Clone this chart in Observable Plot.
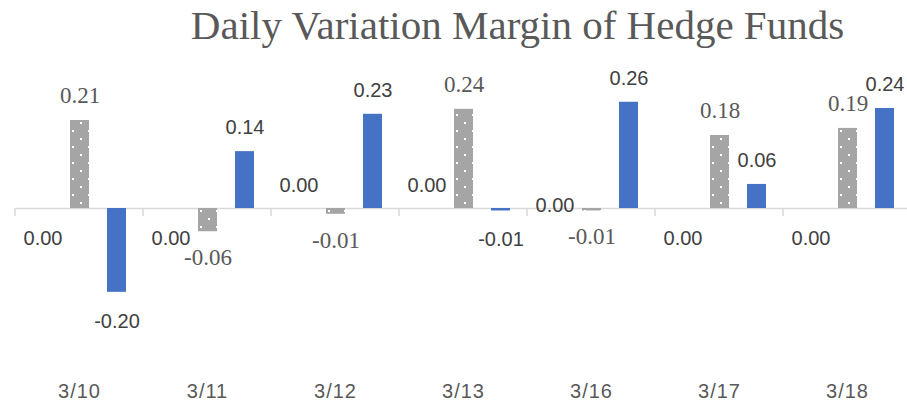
<!DOCTYPE html>
<html>
<head>
<meta charset="utf-8">
<script src="https://cdn.jsdelivr.net/npm/d3@7"></script>
<script src="https://cdn.jsdelivr.net/npm/@observablehq/plot@0.6"></script>
<style>
  html, body { margin: 0; padding: 0; background: #fff; overflow: hidden; }
  #title {
    width: 907px; height: 50px; box-sizing: border-box;
    padding-left: 128px; text-align: center;
    font-family: "Liberation Serif", serif; font-size: 41px; line-height: 50px;
    color: #595959; white-space: nowrap;
  }
</style>
</head>
<body>
<div id="title">Daily Variation Margin of Hedge Funds</div>
<div id="chart"></div>
<script>
// ---- data ----
const dates = ["3/10", "3/11", "3/12", "3/13", "3/16", "3/17", "3/18"];
const seriesNames = ["A", "B", "C"];
const seriesA = [0, 0, 0, 0, 0, 0, 0];
const seriesB = [0.212, -0.056, -0.014, 0.239, -0.006, 0.176, 0.193];
const seriesC = [-0.202, 0.137, 0.227, -0.006, 0.256, 0.058, 0.241];

const table = dates.flatMap((date, i) => [
  {date, series: "A", value: seriesA[i]},
  {date, series: "B", value: seriesB[i]},
  {date, series: "C", value: seriesC[i]}
]);
const fmt = d3.formatLocale({decimal: ".", thousands: ",", grouping: [3], currency: ["$", ""], minus: "-"}).format(".2f");
const S = s => table.filter(d => d.series === s);

// placement of the zero-value labels (as in the reference)
const zeroAbove = new Set(["3/12", "3/13"]);
const zeroCenter = new Set(["3/16"]);

const sansLabel = {fontFamily: "Liberation Sans, Arial, sans-serif", fontSize: 20, fill: "#404040"};
const serifLabel = {fontFamily: "Liberation Serif, serif", fontSize: 23, fill: "#595959"};

const chart = Plot.plot({
  width: 913,
  height: 356,
  marginLeft: 12,
  marginRight: 0,
  marginTop: 33.5,
  marginBottom: 73.5,
  style: "max-width:none; overflow:visible; background:#fff;",
  fx: {domain: dates, padding: 0, label: null},
  x: {domain: seriesNames, paddingInner: 0.5, paddingOuter: 0.443, axis: null},
  y: {domain: [-0.3, 0.3], axis: null},
  marks: [
    Plot.ruleY([0], {stroke: "#d9d9d9", strokeWidth: 1.5}),
    Plot.barY(S("A"), {fx: "date", x: "series", y: "value", fill: "#ff0000"}),
    Plot.barY(S("B"), {fx: "date", x: "series", y: "value", fill: "url(#dots)"}),
    Plot.barY(S("C"), {fx: "date", x: "series", y: "value", fill: "#4472c4"}),
    // grey series labels
    Plot.text(S("B").filter(d => d.value >= 0), {fx: "date", x: "series", y: "value", text: d => fmt(d.value), dy: -25, ...serifLabel}),
    Plot.text(S("B").filter(d => d.value < 0), {fx: "date", x: "series", y: "value", text: d => fmt(d.value), dy: 26, ...serifLabel}),
    // blue series labels
    Plot.text(S("C").filter(d => d.value >= 0), {fx: "date", x: "series", y: "value", text: d => fmt(d.value), dy: -24, ...sansLabel}),
    Plot.text(S("C").filter(d => d.value < 0), {fx: "date", x: "series", y: "value", text: d => fmt(d.value), dy: 29, ...sansLabel}),
    // zero series labels
    Plot.text(S("A").filter(d => !zeroAbove.has(d.date) && !zeroCenter.has(d.date)), {fx: "date", x: "series", y: "value", text: d => fmt(d.value), dy: 30, ...sansLabel}),
    Plot.text(S("A").filter(d => zeroAbove.has(d.date)), {fx: "date", x: "series", y: "value", text: d => fmt(d.value), dy: -23, ...sansLabel}),
    Plot.text(S("A").filter(d => zeroCenter.has(d.date)), {fx: "date", x: "series", y: "value", text: d => fmt(d.value), dy: -3, ...sansLabel}),
    Plot.axisFx({anchor: "bottom", tickSize: 0, tickPadding: 51, fontSize: 20, fontFamily: "Liberation Sans, Arial, sans-serif", fill: "#595959", label: null})
  ]
});

// dotted pattern for the grey series
d3.select(chart).insert("defs", ":first-child").html(`
  <pattern id="dots" patternUnits="userSpaceOnUse" width="16" height="16">
    <rect width="16" height="16" fill="#a5a5a5"></rect>
    <rect x="5" y="0" width="2" height="2" fill="#ffffff"></rect>
    <rect x="13" y="8" width="2" height="2" fill="#ffffff"></rect>
  </pattern>`);

// slightly wider letter spacing on the category labels, as in the reference
d3.select(chart).selectAll("[aria-label='fx-axis tick label'] text").attr("letter-spacing", "1px");

// category boundary tick marks, using the chart's own scales
const fx = chart.scale("fx");
const y = chart.scale("y");
const y0 = y.apply(0);
const bounds = dates.map(d => fx.apply(d)).concat([fx.apply(dates[dates.length - 1]) + fx.bandwidth]);
d3.select(chart).append("g")
  .selectAll("line").data(bounds).join("line")
  .attr("x1", d => d).attr("x2", d => d)
  .attr("y1", y0).attr("y2", y0 + 8)
  .attr("stroke", "#d9d9d9").attr("stroke-width", 1.5);

document.getElementById("chart").appendChild(chart);
</script>
</body>
</html>
